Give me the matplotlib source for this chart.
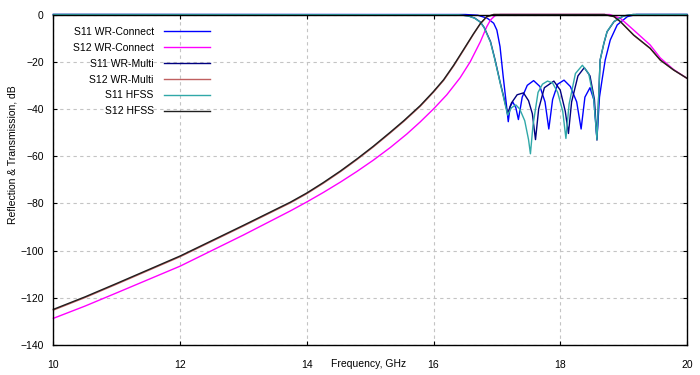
import matplotlib
matplotlib.use("Agg")
import matplotlib.pyplot as plt

plt.rcParams['font.family'] = ['Liberation Sans', 'DejaVu Sans']

# --- S12 (transmission) curves ---
f_s12_multi = [10, 10.5, 11, 12, 13, 13.74, 14.0, 14.26, 14.53, 14.79, 15.05, 15.32, 15.53,
               15.79, 16.0, 16.16, 16.32, 16.48, 16.63, 16.74, 16.84, 16.95,
               18.7, 18.85, 18.95, 19.16, 19.42, 19.58, 19.79, 20.0]
s12_multi = [-125.2, -119.9, -114.2, -102.6, -89.6, -79.8, -75.9, -71.5, -66.6, -61.5, -56.1,
             -50.1, -45.3, -38.9, -32.9, -27.9, -21.7, -14.9, -8.4, -3.9, -1.0, 0,
             0, -0.9, -3.0, -8.8, -14.4, -19.3, -23.5, -27.0]

f_s12_hfss = f_s12_multi
s12_hfss = [-124.9, -119.6, -113.9, -102.3, -89.3, -79.5, -75.6, -71.2, -66.3, -61.2, -55.8,
            -49.8, -45.0, -38.6, -32.6, -27.6, -21.4, -14.6, -8.2, -3.8, -0.9, 0,
            0, -0.9, -3.0, -8.7, -14.3, -19.3, -23.5, -27.0]

f_s12_conn = [10, 10.5, 11, 12, 13, 13.74, 14.0, 14.26, 14.53, 14.79, 15.05, 15.32, 15.58,
              15.79, 16.0, 16.21, 16.42, 16.58, 16.74, 16.84, 16.9, 16.97, 17.05,
              18.78, 18.95, 19.16, 19.42, 19.58, 19.79, 20.0]
s12_conn = [-128.7, -123.5, -117.9, -106.6, -93.4, -83.2, -79.4, -75.4, -71.0, -66.5, -61.7,
            -56.3, -50.6, -45.5, -40.0, -34.0, -26.8, -20.0, -11.5, -5.2, -2.3, -0.5, 0,
            0, -1.6, -6.6, -12.9, -18.4, -23.3, -27.0]

# --- S11 (reflection) curves ---
f_s11_conn = [10, 16.5, 16.7, 16.85, 16.95, 17.0, 17.05, 17.1, 17.15, 17.18, 17.21, 17.25, 17.3,
              17.34, 17.4, 17.48, 17.58, 17.68, 17.76, 17.82, 17.88, 17.96, 18.06, 18.16, 18.26,
              18.33, 18.39, 18.47, 18.53, 18.58, 18.62, 18.66, 18.71, 18.79, 18.9, 19.06, 19.2, 20]
s11_conn = [0, 0, -0.3, -1.6, -3.7, -6.6, -13.6, -26.3, -38, -45.4, -39, -37, -39.5,
            -44.5, -35, -30, -28, -30.5, -37, -48.5, -36, -29.5, -27.8, -30.5, -37,
            -48.5, -35, -31, -36, -52.5, -35, -27.8, -19.3, -10.8, -4.4, -0.9, 0, 0]

f_s11_multi = [10, 16.4, 16.55, 16.65, 16.74, 16.8, 16.9, 16.97, 17.05, 17.1, 17.17, 17.23, 17.32,
               17.42, 17.5, 17.56, 17.61, 17.66, 17.75, 17.9, 18.0, 18.08, 18.13, 18.18, 18.28,
               18.38, 18.47, 18.54, 18.58, 18.63, 18.69, 18.74, 18.85, 19.0, 19.15, 20]
s11_multi = [0, -0.1, -0.6, -1.5, -3.2, -5.5, -11.5, -19, -28.5, -34, -42, -37.5, -34,
             -33.2, -36.5, -42, -53, -40, -31, -28.2, -32, -41, -50.4, -37, -26,
             -22.5, -26, -36, -53.2, -19.3, -12.2, -7.3, -3.0, -0.6, 0, 0]

f_s11_hfss = [10, 16.4, 16.55, 16.65, 16.74, 16.8, 16.9, 16.97, 17.05, 17.1, 17.17, 17.23, 17.3,
              17.36, 17.44, 17.5, 17.53, 17.57, 17.65, 17.72, 17.8, 17.88, 17.96, 18.04, 18.09,
              18.14, 18.24, 18.35, 18.45, 18.53, 18.58, 18.63, 18.69, 18.74, 18.85, 19.0, 19.15, 20]
s11_hfss = [0, -0.1, -0.6, -1.6, -3.3, -5.6, -11.8, -19.3, -28.8, -34.5, -42.6, -39.5, -38.3,
            -40, -45, -53, -59, -47, -33, -29.5, -28.2, -29, -33, -41, -52.5,
            -38, -25, -21.5, -25, -36, -53, -19.3, -12.0, -7.2, -2.9, -0.6, 0, 0]

xticks = [10, 12, 14, 16, 18, 20]
yticks = [-140, -120, -100, -80, -60, -40, -20, 0]

fig = plt.figure(figsize=(7, 3.75), dpi=100)
ax = fig.add_axes([0.0763, 0.08, 0.905, 0.8813])

ax.plot(f_s11_conn, s11_conn, color='#0000ff', lw=1.0, label='S11 WR-Connect', clip_on=False)
ax.plot(f_s12_conn, s12_conn, color='#ff00ff', lw=1.0, label='S12 WR-Connect', clip_on=False)
ax.plot(f_s11_multi, s11_multi, color='#000080', lw=1.0, label='S11 WR-Multi', clip_on=False)
ax.plot(f_s12_multi, s12_multi, color='#c06060', lw=1.0, label='S12 WR-Multi', clip_on=False)
ax.plot(f_s11_hfss, s11_hfss, color='#30a8a8', lw=1.0, label='S11 HFSS', clip_on=False)
ax.plot(f_s12_hfss, s12_hfss, color='#202020', lw=1.0, label='S12 HFSS', clip_on=False)

ax.set_xlim(10, 20)
ax.set_ylim(-140, 0)
ax.set_xticks(xticks)
ax.set_yticks(yticks)
ax.tick_params(direction='in', length=3, labelsize=7.5, top=True, right=True)
ax.tick_params(axis='x', pad=11)
ax.tick_params(axis='y', pad=7)
ax.grid(True, color='#c4c4c4', linestyle=(0, (3, 3)), lw=0.8)
for s in ax.spines.values():
    s.set_linewidth(1.0)

ax.set_xlabel('Frequency, GHz', fontsize=7.5)
ax.xaxis.set_label_coords(0.497, -0.042)
ax.set_ylabel('Reflection & Transmission, dB', fontsize=7.5)
ax.yaxis.set_label_coords(-0.057, 0.575)

ax.legend(loc='upper right', bbox_to_anchor=(0.247, 0.962), frameon=False, markerfirst=False,
          fontsize=7.5, handlelength=4.4, handletextpad=1.0, labelspacing=0.56, borderpad=0,
          borderaxespad=0)

fig.savefig('out.png', dpi=100)
